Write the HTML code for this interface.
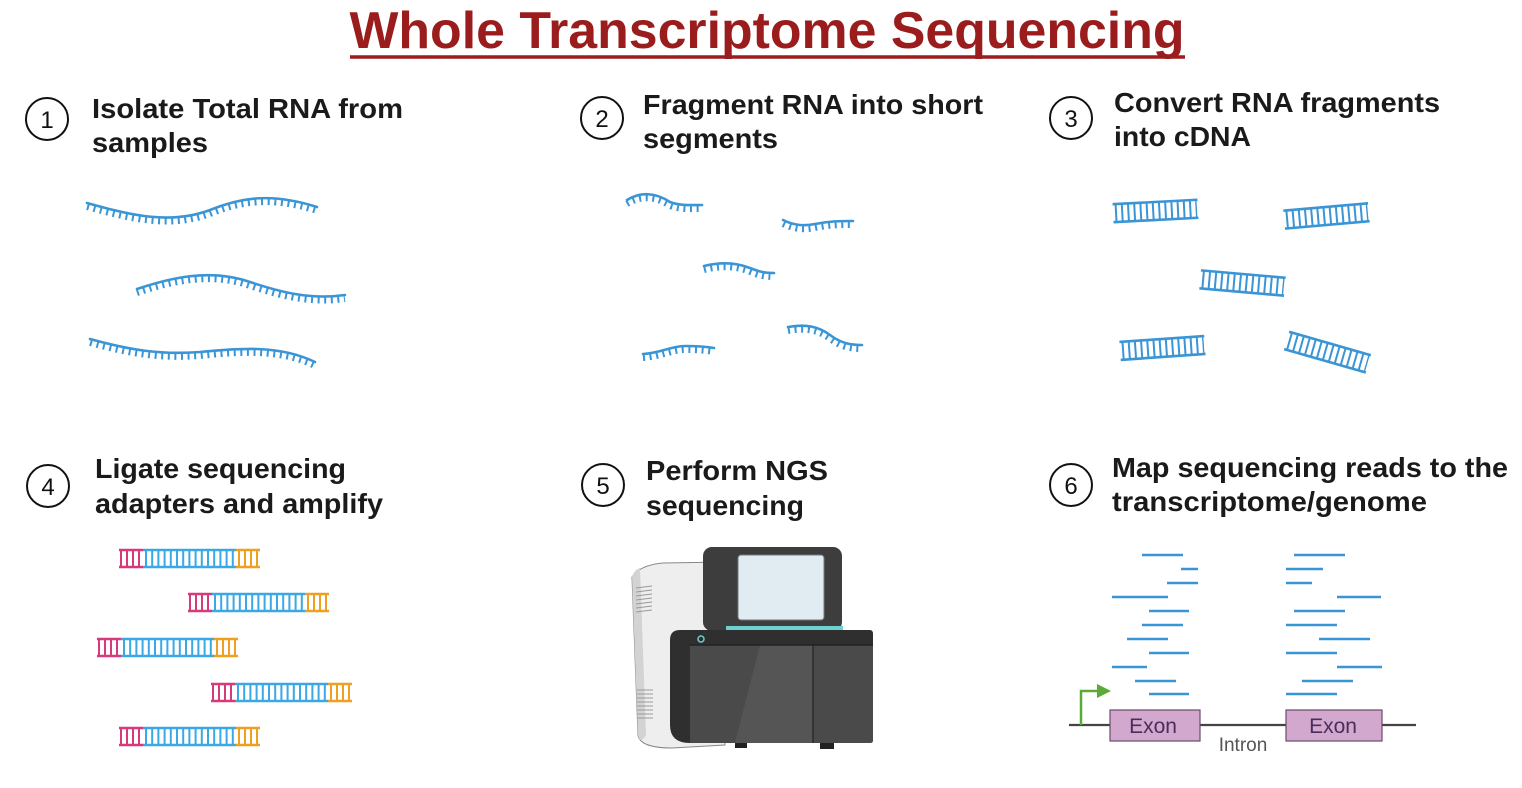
<!DOCTYPE html>
<html><head><meta charset="utf-8"><style>
html,body{margin:0;padding:0;background:#fff;}
svg{display:block;}
text{font-family:"Liberation Sans",sans-serif;}
.h{font-size:28px;font-weight:bold;fill:#1a1a1a;}
.n{font-size:24px;fill:#111;}
.bb{fill:none;stroke:#3a95d6;stroke-width:2.6;stroke-linecap:round;}
.tk{fill:none;stroke:#3a95d6;stroke-width:6;stroke-dasharray:2 4.6;}
</style></head><body>
<svg width="1522" height="788" viewBox="0 0 1522 788" xmlns="http://www.w3.org/2000/svg">
<defs>
<g id="lad">
<line x1="0" y1="1" x2="85" y2="1" stroke="#3a95d6" stroke-width="2.6"/>
<line x1="0" y1="19" x2="85" y2="19" stroke="#3a95d6" stroke-width="2.6"/>
<line x1="2" y1="10" x2="84" y2="10" stroke="#3a95d6" stroke-width="18" stroke-dasharray="2 4.2"/>
</g>
</defs>
<text x="767" y="48" text-anchor="middle" font-size="52" font-weight="bold" fill="#9b1c1c" textLength="835" lengthAdjust="spacingAndGlyphs">Whole Transcriptome Sequencing</text>
<line x1="350" y1="57" x2="1185" y2="57" stroke="#9b1c1c" stroke-width="3.5"/>

<g fill="none" stroke="#111" stroke-width="2">
<circle cx="47" cy="119" r="21"/><circle cx="602" cy="118" r="21"/><circle cx="1071" cy="118" r="21"/>
<circle cx="48" cy="486" r="21"/><circle cx="603" cy="485" r="21"/><circle cx="1071" cy="485" r="21"/>
</g>
<text class="n" x="47" y="128" text-anchor="middle">1</text>
<text class="n" x="602" y="127" text-anchor="middle">2</text>
<text class="n" x="1071" y="127" text-anchor="middle">3</text>
<text class="n" x="48" y="495" text-anchor="middle">4</text>
<text class="n" x="603" y="494" text-anchor="middle">5</text>
<text class="n" x="1071" y="494" text-anchor="middle">6</text>

<text class="h" x="92" y="118" textLength="311" lengthAdjust="spacingAndGlyphs">Isolate Total RNA from</text>
<text class="h" x="92" y="152" textLength="116" lengthAdjust="spacingAndGlyphs">samples</text>
<text class="h" x="643" y="114" textLength="340" lengthAdjust="spacingAndGlyphs">Fragment RNA into short</text>
<text class="h" x="643" y="148" textLength="135" lengthAdjust="spacingAndGlyphs">segments</text>
<text class="h" x="1114" y="112" textLength="326" lengthAdjust="spacingAndGlyphs">Convert RNA fragments</text>
<text class="h" x="1114" y="146" textLength="137" lengthAdjust="spacingAndGlyphs">into cDNA</text>
<text class="h" x="95" y="478" textLength="251" lengthAdjust="spacingAndGlyphs">Ligate sequencing</text>
<text class="h" x="95" y="513" textLength="288" lengthAdjust="spacingAndGlyphs">adapters and amplify</text>
<text class="h" x="646" y="480" textLength="182" lengthAdjust="spacingAndGlyphs">Perform NGS</text>
<text class="h" x="646" y="515" textLength="158" lengthAdjust="spacingAndGlyphs">sequencing</text>
<text class="h" x="1112" y="477" textLength="396" lengthAdjust="spacingAndGlyphs">Map sequencing reads to the</text>
<text class="h" x="1112" y="511" textLength="315" lengthAdjust="spacingAndGlyphs">transcriptome/genome</text>

<g>
<path class="bb" d="M87,203 C130,215 170,225 210,210 C240,198 270,192 317,207"/>
<path class="tk" transform="translate(0,4)" d="M87,203 C130,215 170,225 210,210 C240,198 270,192 317,207"/>
<path class="bb" d="M137,289 C170,278 210,268 250,282 C280,292 310,300 345,295"/>
<path class="tk" transform="translate(0,4)" d="M137,289 C170,278 210,268 250,282 C280,292 310,300 345,295"/>
<path class="bb" d="M90,339 C130,350 160,355 200,352 C240,348 280,345 315,362"/>
<path class="tk" transform="translate(0,4)" d="M90,339 C130,350 160,355 200,352 C240,348 280,345 315,362"/>
</g>

<g>
<path class="bb" d="M627,200 C640,192 655,192 670,202 C680,206 692,205 702,205"/>
<path class="tk" transform="translate(0,4)" d="M627,200 C640,192 655,192 670,202 C680,206 692,205 702,205"/>
<path class="bb" d="M783,220 C795,226 805,226 815,224 C830,221 840,221 853,221"/>
<path class="tk" transform="translate(0,4)" d="M783,220 C795,226 805,226 815,224 C830,221 840,221 853,221"/>
<path class="bb" d="M704,266 C720,262 735,262 750,268 C760,272 765,273 774,273"/>
<path class="tk" transform="translate(0,4)" d="M704,266 C720,262 735,262 750,268 C760,272 765,273 774,273"/>
<path class="bb" d="M788,327 C805,324 818,326 830,335 C842,344 852,345 862,345"/>
<path class="tk" transform="translate(0,4)" d="M788,327 C805,324 818,326 830,335 C842,344 852,345 862,345"/>
<path class="bb" d="M643,354 C660,353 672,346 685,346 C700,346 708,347 714,348"/>
<path class="tk" transform="translate(0,4)" d="M643,354 C660,353 672,346 685,346 C700,346 708,347 714,348"/>
</g>

<use href="#lad" transform="translate(1155,211) rotate(-3) translate(-42,-10)"/>
<use href="#lad" transform="translate(1326,216) rotate(-5) translate(-42,-10)"/>
<use href="#lad" transform="translate(1242,283) rotate(5) translate(-42,-10)"/>
<use href="#lad" transform="translate(1162,348) rotate(-4) translate(-42,-10)"/>
<use href="#lad" transform="translate(1327,352) rotate(16) translate(-42,-10)"/>

<g id="row">
<g transform="translate(119,549)">
<line x1="0" y1="1" x2="24" y2="1" stroke="#d63a7a" stroke-width="2.6"/><line x1="0" y1="18" x2="24" y2="18" stroke="#d63a7a" stroke-width="2.6"/>
<line x1="1" y1="9.5" x2="24" y2="9.5" stroke="#d63a7a" stroke-width="17" stroke-dasharray="2 4"/>
<line x1="24" y1="1" x2="117" y2="1" stroke="#3aa8e4" stroke-width="2.6"/><line x1="24" y1="18" x2="117" y2="18" stroke="#3aa8e4" stroke-width="2.6"/>
<line x1="26" y1="9.5" x2="117" y2="9.5" stroke="#3aa8e4" stroke-width="17" stroke-dasharray="2 4.2"/>
<line x1="117" y1="1" x2="141" y2="1" stroke="#f0a020" stroke-width="2.6"/><line x1="117" y1="18" x2="141" y2="18" stroke="#f0a020" stroke-width="2.6"/>
<line x1="119" y1="9.5" x2="141" y2="9.5" stroke="#f0a020" stroke-width="17" stroke-dasharray="2 4"/>
</g>
</g>
<use href="#row" transform="translate(69,44)"/>
<use href="#row" transform="translate(-22,89)"/>
<use href="#row" transform="translate(92,134)"/>
<use href="#row" transform="translate(0,178)"/>

<g>
<path d="M632,577 Q640,565 663,563 L725,562 L725,745 L672,748 Q640,748 638,735 Z" fill="#eeeeee" stroke="#888" stroke-width="1"/>
<path d="M632,577 Q634,570 640,568 L646,735 Q640,745 638,735 Z" fill="#d3d3d3"/>
<g stroke="#999" stroke-width="1">
<line x1="636" y1="588" x2="652" y2="586"/><line x1="636" y1="592" x2="652" y2="590"/><line x1="636" y1="596" x2="652" y2="594"/><line x1="636" y1="600" x2="652" y2="598"/><line x1="636" y1="604" x2="652" y2="602"/><line x1="636" y1="608" x2="652" y2="606"/><line x1="636" y1="612" x2="652" y2="610"/>
<line x1="637" y1="690" x2="653" y2="690"/><line x1="637" y1="694" x2="653" y2="694"/><line x1="637" y1="698" x2="653" y2="698"/><line x1="637" y1="702" x2="653" y2="702"/><line x1="637" y1="706" x2="653" y2="706"/><line x1="637" y1="710" x2="653" y2="710"/><line x1="637" y1="714" x2="653" y2="714"/><line x1="637" y1="718" x2="653" y2="718"/>
</g>
<rect x="703" y="547" width="139" height="84" rx="9" fill="#3d3d3d"/>
<rect x="738" y="555" width="86" height="65" rx="3" fill="#e1ecf2" stroke="#777" stroke-width="1"/>
<rect x="726" y="626" width="117" height="4" fill="#6fd0d0"/>
<path d="M680,630 L870,630 Q873,630 873,634 L873,740 Q873,743 870,743 L690,743 Q670,743 670,725 L670,640 Q670,630 680,630 Z" fill="#2f2f2f"/>
<path d="M690,645 L873,645 L873,740 Q873,743 870,743 L690,743 Z" fill="#4a4a4a"/>
<path d="M760,645 L813,645 L813,743 L735,743 Z" fill="#555"/>
<line x1="813" y1="645" x2="813" y2="743" stroke="#2a2a2a" stroke-width="1.5"/>
<line x1="690" y1="645" x2="873" y2="645" stroke="#222" stroke-width="1.5"/>
<circle cx="701" cy="639" r="3" fill="none" stroke="#6fd0d0" stroke-width="1.5"/>
<rect x="735" y="743" width="12" height="5" fill="#222"/><rect x="820" y="743" width="14" height="6" fill="#222"/>
</g>

<g stroke="#3a95d6" stroke-width="2.6">
<line x1="1142" y1="555" x2="1183" y2="555"/><line x1="1181" y1="569" x2="1198" y2="569"/><line x1="1167" y1="583" x2="1198" y2="583"/>
<line x1="1112" y1="597" x2="1168" y2="597"/><line x1="1149" y1="611" x2="1189" y2="611"/><line x1="1142" y1="625" x2="1183" y2="625"/>
<line x1="1127" y1="639" x2="1168" y2="639"/><line x1="1149" y1="653" x2="1189" y2="653"/><line x1="1112" y1="667" x2="1147" y2="667"/>
<line x1="1135" y1="681" x2="1176" y2="681"/><line x1="1149" y1="694" x2="1189" y2="694"/>
<line x1="1294" y1="555" x2="1345" y2="555"/><line x1="1286" y1="569" x2="1323" y2="569"/><line x1="1286" y1="583" x2="1312" y2="583"/>
<line x1="1337" y1="597" x2="1381" y2="597"/><line x1="1294" y1="611" x2="1345" y2="611"/><line x1="1286" y1="625" x2="1337" y2="625"/>
<line x1="1319" y1="639" x2="1370" y2="639"/><line x1="1286" y1="653" x2="1337" y2="653"/><line x1="1337" y1="667" x2="1382" y2="667"/>
<line x1="1302" y1="681" x2="1353" y2="681"/><line x1="1286" y1="694" x2="1337" y2="694"/>
</g>
<line x1="1069" y1="725" x2="1416" y2="725" stroke="#444" stroke-width="2.2"/>
<path d="M1081,725 L1081,691 L1099,691" fill="none" stroke="#5aaa3a" stroke-width="2.5"/>
<path d="M1097,684 L1111,691 L1097,698 Z" fill="#5aaa3a"/>
<rect x="1110" y="710" width="90" height="31" fill="#d2a8cf" stroke="#6a4a6a" stroke-width="1.2"/>
<rect x="1286" y="710" width="96" height="31" fill="#d2a8cf" stroke="#6a4a6a" stroke-width="1.2"/>
<text x="1153" y="733" text-anchor="middle" font-size="21" fill="#4a2d5a">Exon</text>
<text x="1333" y="733" text-anchor="middle" font-size="21" fill="#4a2d5a">Exon</text>
<text x="1243" y="751" text-anchor="middle" font-size="19" fill="#555">Intron</text>
</svg>
</body></html>
